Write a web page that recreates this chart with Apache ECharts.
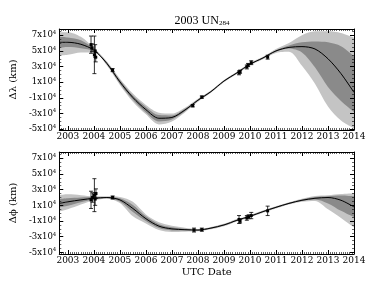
<!DOCTYPE html>
<html><head><meta charset="utf-8">
<script src="https://cdn.jsdelivr.net/npm/echarts@6/dist/echarts.min.js"></script>
<style>html,body{margin:0;padding:0;background:#fff}#c{width:374px;height:282px}</style>
</head><body><div id="c"></div><script>
// ---------- data ----------
const yearTicks = [2003,2004,2005,2006,2007,2008,2009,2010,2011,2012,2013,2014];
const yTicks = [-50000,-30000,-10000,10000,30000,50000,70000];
const xs = [2002.67,2003.0,2003.5,2004.0,2004.5,2005.0,2005.5,2006.0,2006.5,2007.0,2007.5,2008.0,
            2008.5,2009.0,2009.5,2010.0,2010.5,2011.0,2011.5,2012.0,2012.5,2013.0,2013.5,2014.0];

// Δλ panel
const lamLine    = [61000,61000,58500,51000,34000,10500,-9500,-25000,-36000,-35000,-25500,-13000,
                    -2000,11500,22000,33000,41000,50000,54500,55500,52500,40000,21000,-3000];
const lamLightLo = [44000,45000,48000,48000,31500,6500,-15000,-31000,-44000,-40000,-28500,-15000,
                    -3500,10000,20500,31500,39500,47500,49000,31000,8000,-21000,-39000,-49000];
const lamLightHi = [74000,74000,68000,54000,36500,14500,-4500,-19000,-29000,-30000,-22500,-11000,
                    -500,13000,23500,34500,42500,52500,60000,70000,75000,75000,73000,67000];
const lamDarkLo  = [54000,55000,53500,49500,32500,8000,-12500,-28500,-40000,-37500,-27000,-14000,
                    -2800,10800,21300,32300,40300,49000,53000,48000,29000,4000,-14000,-28000];
const lamDarkHi  = [68000,67000,63500,52500,35500,13000,-7000,-21500,-32000,-32500,-24000,-12000,
                    -1200,12200,22700,33700,41700,51000,57000,61000,62000,61000,56000,43000];
const lamObs = [[2003.89,58000,11000],[2003.93,54000,5000],[2004.02,45000,24000],[2004.05,50000,8000],
                [2004.07,42000,6000],[2004.72,25500,2000],[2007.80,-20000,1500],[2008.15,-9000,1500],
                [2009.58,22000,2500],[2009.62,23500,2000],[2009.88,29500,2500],[2009.93,32000,2000],
                [2010.05,35000,2500],[2010.68,42000,2500]];

// Δϕ panel
const phiLine    = [12500,14500,17000,19000,20000,17000,6000,-7000,-16500,-20000,-21000,-21500,
                    -19000,-15000,-9000,-4000,2000,7500,12500,16500,19000,20000,16500,8000];
const phiLightLo = [2000,5000,11000,16500,18500,13000,-4000,-13000,-21500,-24000,-23500,-23000,
                    -20500,-16500,-10500,-5500,500,6000,11000,14500,15500,5000,-6000,-18000];
const phiLightHi = [23000,24000,23000,21500,21500,20500,14500,-1500,-11500,-16000,-18500,-20000,
                    -17500,-13500,-7500,-2500,3500,9000,14000,18500,22000,23000,24500,25500];
const phiDarkLo  = [7500,9500,14000,17500,19200,15000,1500,-10000,-19000,-22000,-22200,-22300,
                    -19800,-15800,-9800,-4800,1200,6700,11700,15500,17500,12500,3000,-5000];
const phiDarkHi  = [18000,19000,20000,20500,20800,19000,10500,-4000,-14000,-18000,-19800,-20700,
                    -18200,-14200,-8200,-3200,2800,8300,13300,17500,20500,21500,22500,21500];
const phiObs = [[2003.89,17000,11000],[2003.95,20000,6000],[2004.02,23000,21000],[2004.05,18000,8000],
                [2004.08,25000,6000],[2004.72,20000,2000],[2007.85,-21500,2500],[2008.15,-21000,2000],
                [2009.58,-8000,5000],[2009.62,-10000,2500],[2009.88,-6000,3000],[2009.95,-4500,2500],
                [2010.05,-3000,4000],[2010.68,3000,6000]];

// ---------- styling ----------
const SERIF = 'DejaVu Serif';
const LIGHT = '#c4c4c4', DARK = '#8a8a8a';
const XMIN = 2002.67, XMAX = 2014.0;
const monthTicks = []; for (let m = 2003*12 - 3; m <= 2014*12; m++) monthTicks.push(m/12);
const yMinor = []; for (let v = -50000; v <= 75000; v += 5000) yMinor.push(v);
const axLine = {show:true, onZero:false, lineStyle:{color:'#000', width:1}};
const noLine = {show:false, onZero:false};

function xAxes(gi, withName) {
  const base = {gridIndex:gi, type:'value', min:XMIN, max:XMAX, splitLine:{show:false}, z:10};
  return [
    Object.assign({}, base, {position:'bottom', axisLine:axLine,
      axisTick:{inside:true, length:4, customValues:yearTicks, lineStyle:{color:'#000'}},
      axisLabel:{customValues:yearTicks, margin:2, fontFamily:SERIF, fontSize:9, color:'#000', formatter:v=>String(v)},
      name: withName ? 'UTC Date' : '', nameLocation:'middle', nameGap:13,
      nameTextStyle:{fontFamily:SERIF, fontSize:10, color:'#000', verticalAlign:'top'}}),
    Object.assign({}, base, {position:'top', axisLine:axLine,
      axisTick:{inside:true, length:4, customValues:yearTicks, lineStyle:{color:'#000'}}, axisLabel:{show:false}}),
    Object.assign({}, base, {position:'bottom', axisLine:noLine,
      axisTick:{inside:true, length:2, customValues:monthTicks, lineStyle:{color:'#000', width:0.6}}, axisLabel:{show:false}}),
    Object.assign({}, base, {position:'top', axisLine:noLine,
      axisTick:{inside:true, length:2, customValues:monthTicks, lineStyle:{color:'#000', width:0.6}}, axisLabel:{show:false}})
  ];
}
function yAxes(gi, ymin, ymax, name) {
  const base = {gridIndex:gi, type:'value', min:ymin, max:ymax, splitLine:{show:false}, z:10};
  return [
    Object.assign({}, base, {position:'left', axisLine:axLine,
      axisTick:{inside:true, length:4, customValues:yTicks, lineStyle:{color:'#000'}},
      axisLabel:{customValues:yTicks, margin:3, color:'#000',
        formatter: v => '{a|' + (v/10000) + 'x10}{s|4}',
        rich:{a:{fontFamily:SERIF, fontSize:8.5, color:'#000'}, s:{fontFamily:SERIF, fontSize:5.5, color:'#000', verticalAlign:'top', padding:[0,0,5,0]}}},
      name:name, nameLocation:'middle', nameGap:33,
      nameTextStyle:{fontFamily:SERIF, fontSize:10, color:'#000'}}),
    Object.assign({}, base, {position:'right', axisLine:axLine,
      axisTick:{inside:true, length:4, customValues:yTicks, lineStyle:{color:'#000'}}, axisLabel:{show:false}}),
    Object.assign({}, base, {position:'left', axisLine:noLine,
      axisTick:{inside:true, length:2, customValues:yMinor, lineStyle:{color:'#000', width:0.6}}, axisLabel:{show:false}}),
    Object.assign({}, base, {position:'right', axisLine:noLine,
      axisTick:{inside:true, length:2, customValues:yMinor, lineStyle:{color:'#000', width:0.6}}, axisLabel:{show:false}})
  ];
}

// Each band edge is filled down to the axis minimum; layering the fills
// (light-hi, dark-hi, dark-lo, light-lo in white) leaves exactly the bands.
function fillEdge(gi, vals, color) {
  return {type:'line', xAxisIndex:gi*4, yAxisIndex:gi*4, smooth:0.3, symbol:'none', silent:true,
    lineStyle:{width:0, opacity:0}, areaStyle:{color:color, opacity:1, origin:'start'},
    data: xs.map((x,i)=>[x, vals[i]])};
}
function bands(gi, lLo, lHi, dLo, dHi) {
  return [fillEdge(gi, lHi, LIGHT), fillEdge(gi, dHi, DARK), fillEdge(gi, dLo, LIGHT), fillEdge(gi, lLo, '#ffffff')];
}
function centre(gi, vals) {
  return {type:'line', xAxisIndex:gi*4, yAxisIndex:gi*4, smooth:0.3, symbol:'none', silent:true,
    lineStyle:{color:'#000', width:1}, data: xs.map((x,i)=>[x, vals[i]]), z:5};
}
function errBars(gi, obs) {
  return {type:'custom', xAxisIndex:gi*4, yAxisIndex:gi*4, z:6, silent:true, data:obs,
    encode:{x:0, y:1},
    renderItem:(params, api) => {
      const x = api.value(0), y = api.value(1), e = api.value(2);
      const p = api.coord([x, y]), hi = api.coord([x, y+e]), lo = api.coord([x, y-e]);
      const st = {stroke:'#000', lineWidth:0.8};
      return {type:'group', children:[
        {type:'line', shape:{x1:p[0], y1:hi[1], x2:p[0], y2:lo[1]}, style:st},
        {type:'line', shape:{x1:p[0]-2, y1:hi[1], x2:p[0]+2, y2:hi[1]}, style:st},
        {type:'line', shape:{x1:p[0]-2, y1:lo[1], x2:p[0]+2, y2:lo[1]}, style:st},
        {type:'rect', shape:{x:p[0]-1.5, y:p[1]-1.5, width:3, height:3}, style:{fill:'#000'}}
      ]};
    }};
}

const chart = echarts.init(document.getElementById('c'), null, {renderer:'canvas'});
chart.setOption({
  animation:false,
  backgroundColor:'#fff',
  title:{text:'{t|2003 UN}{s|284}', left:197, top:9, textAlign:'center',
    textStyle:{fontWeight:'normal', rich:{t:{fontFamily:'Liberation Serif', fontSize:12, fontWeight:'normal', color:'#000'},
                     s:{fontFamily:'Liberation Serif', fontSize:7, fontWeight:'normal', color:'#000', verticalAlign:'bottom', padding:[6,0,0,0]}}}},
  grid:[{left:47, top:29, width:307, height:101}, {left:47, top:152, width:307, height:102}],
  xAxis:[...xAxes(0,false), ...xAxes(1,true)],
  yAxis:[...yAxes(0,-51000,78000,'Δλ (km)'), ...yAxes(1,-52000,78000,'Δϕ (km)')],
  series:[
    ...bands(0, lamLightLo, lamLightHi, lamDarkLo, lamDarkHi),
    centre(0, lamLine),
    errBars(0, lamObs),
    ...bands(1, phiLightLo, phiLightHi, phiDarkLo, phiDarkHi),
    centre(1, phiLine),
    errBars(1, phiObs)
  ]
});
</script></body></html>
